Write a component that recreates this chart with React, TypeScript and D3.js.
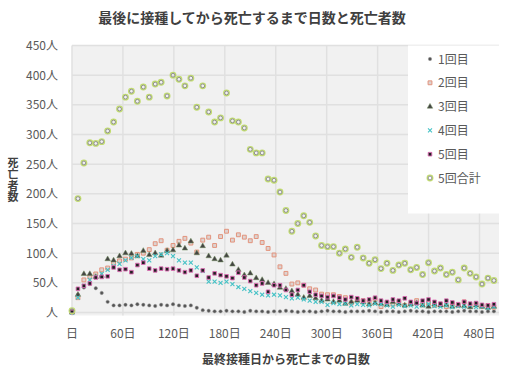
import { useEffect, useRef } from "react";
import * as d3 from "d3";

// days since last dose (weekly bins)
const days = [
  0, 7, 14, 21, 28, 35, 42, 49, 56, 63, 70, 77, 84, 91, 98, 105, 112, 119, 126, 133,
  140, 147, 154, 161, 168, 175, 182, 189, 196, 203, 210, 217, 224, 231, 238, 245, 252, 259, 266, 273,
  280, 287, 294, 301, 308, 315, 322, 329, 336, 343, 350, 357, 364, 371, 378, 385, 392, 399, 406, 413,
  420, 427, 434, 441, 448, 455, 462, 469, 476, 483, 490, 497,
];

const dose1 = [
  1, 30, 42, 48, 41, 33, 18, 12, 12, 13, 12, 14, 13, 12, 11, 13, 12, 14, 12, 11,
  12, 8, 4, 3, 2, 2, 3, 2, 2, 1, 3, 2, 2, 1, 2, 2, 3, 2, 1, 2,
  2, 1, 2, 3, 2, 2, 1, 2, 2, 2, 3, 2, 1, 2, 2, 1, 2, 3, 2, 2,
  1, 2, 2, 2, 1, 2, 3, 2, 2, 1, 2, 2,
];
const dose2 = [
  1, 25, 55, 60, 65, 72, 75, 83, 87, 90, 92, 98, 100, 106, 116, 121, 105, 113, 120, 125,
  117, 102, 122, 127, 113, 128, 137, 122, 131, 127, 121, 128, 118, 108, 97, 77, 66, 48, 50, 46,
  40, 38, 31, 30, 30, 27, 25, 16, 22, 20, 18, 22, 10, 16, 14, 18, 12, 15, 20, 13,
  16, 12, 14, 10, 15, 12, 18, 11, 14, 10, 12, 9,
];
const dose3 = [
  0, 30, 65, 65, 60, 62, 90, 88, 95, 100, 99, 95, 104, 97, 100, 96, 104, 105, 113, 108,
  120, 100, 112, 95, 90, 88, 96, 81, 72, 63, 66, 58, 55, 50, 48, 42, 40, 36, 30, 25,
  28, 24, 20, 22, 18, 20, 15, 18, 20, 17, 14, 16, 15, 13, 18, 15, 12, 14, 16, 12,
  10, 14, 12, 13, 10, 12, 11, 9, 12, 10, 8, 10,
];
const dose4 = [
  0, 25, 45, 55, 60, 65, 72, 78, 82, 88, 92, 95, 90, 88, 95, 98, 100, 95, 88, 84,
  84, 76, 70, 52, 52, 50, 52, 48, 43, 40, 36, 33, 30, 29, 30, 29, 26, 24, 25, 22,
  20, 18, 18, 13, 16, 14, 15, 12, 14, 13, 12, 15, 14, 12, 10, 13, 11, 12, 10, 12,
  14, 11, 10, 12, 9, 11, 10, 12, 9, 10, 8, 10,
];
const dose5 = [
  1, 40, 45, 49, 59, 60, 61, 76, 72, 73, 68, 80, 84, 74, 71, 74, 73, 74, 71, 68,
  71, 62, 71, 59, 66, 63, 61, 58, 67, 59, 53, 46, 49, 35, 46, 46, 38, 30, 38, 46,
  35, 30, 28, 26, 28, 25, 22, 26, 24, 20, 22, 25, 20, 18, 22, 20, 24, 18, 16, 20,
  22, 18, 15, 20, 17, 14, 18, 15, 16, 13, 12, 14,
];
const total = [
  3, 192, 252, 286, 285, 288, 306, 321, 343, 363, 373, 356, 380, 363, 385, 388, 365, 400, 393, 382,
  395, 346, 382, 338, 321, 328, 370, 323, 321, 311, 275, 269, 269, 225, 223, 203, 172, 137, 150, 163,
  152, 129, 113, 111, 111, 100, 107, 93, 110, 92, 83, 89, 74, 83, 71, 80, 83, 72, 76, 64,
  84, 70, 75, 64, 68, 55, 75, 66, 60, 48, 58, 54,
];

const seriesNames = ["1回目", "2回目", "3回目", "4回目", "5回目", "5回合計"];
const seriesValues = [dose1, dose2, dose3, dose4, dose5, total];
const xTicks = [0, 60, 120, 180, 240, 300, 360, 420, 480];
const yTicks = [0, 50, 100, 150, 200, 250, 300, 350, 400, 450];

const W = 512;
const H = 373;
const FONT = "'Noto Sans CJK JP', 'Noto Sans', sans-serif";

const addMarker = (g: any, idx: number, x: number, y: number) => {
  const t = `translate(${x},${y})`;
  if (idx === 0) {
    g.append("circle").attr("cx", x).attr("cy", y).attr("r", 1.7)
      .attr("fill", "#555").attr("stroke", "#999").attr("stroke-width", 0.5);
  } else if (idx === 1) {
    g.append("path").attr("transform", t)
      .attr("d", d3.symbol().type(d3.symbolSquare).size(15)())
      .attr("fill", "#ddd3d0").attr("stroke", "#e3937c").attr("stroke-width", 1);
  } else if (idx === 2) {
    g.append("path").attr("transform", t)
      .attr("d", d3.symbol().type(d3.symbolTriangle).size(13)())
      .attr("fill", "#444").attr("stroke", "#6f8a5a").attr("stroke-width", 0.5);
  } else if (idx === 3) {
    g.append("path").attr("transform", t)
      .attr("d", d3.symbol().type((d3 as any).symbolTimes || (d3 as any).symbolX).size(12)())
      .attr("fill", "none").attr("stroke", "#45c2c6").attr("stroke-width", 1.1);
  } else if (idx === 4) {
    g.append("path").attr("transform", t)
      .attr("d", d3.symbol().type(d3.symbolSquare).size(13)())
      .attr("fill", "#222").attr("stroke", "#de6cb4").attr("stroke-width", 0.9);
  } else {
    g.append("circle").attr("cx", x).attr("cy", y).attr("r", 2.8)
      .attr("fill", "none").attr("stroke", "#c2dc72").attr("stroke-width", 1.3);
    g.append("circle").attr("cx", x).attr("cy", y).attr("r", 1.9)
      .attr("fill", "none").attr("stroke", "#7a7a7a").attr("stroke-width", 0.8);
  }
};

const DrawChart = (element: any) => {
  d3.select(element).select("svg").remove();

  const svg = d3
    .select(element)
    .append("svg")
    .attr("width", W)
    .attr("height", H)
    .style("position", "absolute")
    .style("left", 0)
    .style("top", 0)
    .style("font-family", FONT);

  svg.append("rect").attr("width", W).attr("height", H).attr("fill", "#fff");

  const x = d3.scaleLinear().domain([0, 503]).range([72, 499]);
  const y = d3.scaleLinear().domain([-5, 450]).range([315.5, 45.5]);

  // plot area
  svg.append("rect")
    .attr("x", 72).attr("y", 45.5)
    .attr("width", 499 - 72).attr("height", 315.5 - 45.5)
    .attr("fill", "#f1f1f1");

  const grid = svg.append("g");
  grid.selectAll("line.h").data(yTicks).enter().append("line")
    .attr("x1", 72).attr("x2", 499)
    .attr("y1", (d) => y(d)).attr("y2", (d) => y(d))
    .attr("stroke", "#e0e0e0").attr("stroke-width", 1.5);
  grid.selectAll("line.v").data(xTicks).enter().append("line")
    .attr("y1", 45.5).attr("y2", 315.5)
    .attr("x1", (d) => x(d)).attr("x2", (d) => x(d))
    .attr("stroke", "#e0e0e0").attr("stroke-width", 1.5);

  // title
  svg.append("text")
    .attr("x", 252).attr("y", 23)
    .attr("text-anchor", "middle")
    .style("font-size", "14px").style("font-weight", "bold")
    .style("fill", "#404040")
    .text("最後に接種してから死亡するまで日数と死亡者数");

  // y tick labels
  svg.selectAll("text.yt").data(yTicks).enter().append("text")
    .attr("x", 58).attr("y", (d) => y(d) + 4.5)
    .attr("text-anchor", "end")
    .style("font-size", "12px").style("fill", "#595959")
    .text((d) => (d === 0 ? "人" : `${d}人`));

  // x tick labels
  svg.selectAll("text.xt").data(xTicks).enter().append("text")
    .attr("x", (d) => x(d)).attr("y", 338)
    .attr("text-anchor", "middle")
    .style("font-size", "12px").style("fill", "#595959")
    .text((d) => (d === 0 ? "日" : `${d}日`));

  // axis titles
  svg.append("text")
    .attr("x", 286).attr("y", 364)
    .attr("text-anchor", "middle")
    .style("font-size", "12px").style("font-weight", "bold")
    .style("fill", "#404040")
    .text("最終接種日から死亡までの日数");

  svg.append("text")
    .attr("x", 13).attr("y", 157)
    .style("writing-mode", "vertical-rl")
    .style("text-orientation", "upright")
    .style("font-size", "11px").style("font-weight", "bold")
    .style("letter-spacing", "0.5px")
    .style("fill", "#404040")
    .text("死亡者数");

  // markers
  const marks = svg.append("g");
  seriesValues.forEach((vals, si) => {
    vals.forEach((v, i) => addMarker(marks, si, x(days[i]), y(v)));
  });

  // legend
  const lg = svg.append("g");
  lg.append("rect")
    .attr("x", 408).attr("y", 45.5).attr("width", 91).attr("height", 168)
    .attr("fill", "#fff");
  seriesNames.forEach((name, i) => {
    const ly = 59 + i * 23.8;
    addMarker(lg, i, 430, ly);
    lg.append("text")
      .attr("x", 438).attr("y", ly + 4.5)
      .style("font-size", "12px").style("fill", "#595959")
      .text(name);
  });
};

export default function App() {
  const ref = useRef<HTMLDivElement>(null);
  useEffect(() => {
    if (ref.current) DrawChart(ref.current);
  }, []);
  return <div ref={ref} />;
}
